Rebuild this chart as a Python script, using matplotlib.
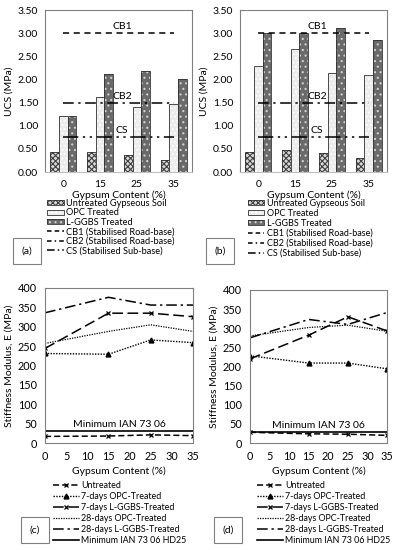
import matplotlib
matplotlib.use("Agg")
import matplotlib.pyplot as plt
import numpy as np
from matplotlib.patches import Patch
from matplotlib.lines import Line2D

plt.rcParams['font.family'] = ['Lato', 'DejaVu Sans']
plt.rcParams['font.size'] = 7
plt.rcParams['hatch.linewidth'] = 0.8

# ---- data ----
gypsum_cats = ['0', '15', '25', '35']
gypsum = [0, 15, 25, 35]

# UCS (MPa), panel (a) and (b)
ucs_untreated_a = [0.43, 0.43, 0.37, 0.25]
ucs_opc_a = [1.22, 1.62, 1.41, 1.46]
ucs_ggbs_a = [1.20, 2.12, 2.18, 2.01]

ucs_untreated_b = [0.44, 0.48, 0.41, 0.30]
ucs_opc_b = [2.28, 2.65, 2.14, 2.10]
ucs_ggbs_b = [3.00, 3.00, 3.11, 2.86]

cb1, cb2, cs = 3.0, 1.5, 0.75

# stiffness modulus (MPa), panel (c) and (d)
e_untreated_c = [17, 18, 21, 19]
e_opc7_c = [231, 229, 266, 259]
e_ggbs7_c = [244, 335, 335, 326]
e_opc28_c = [257, 288, 305, 288]
e_ggbs28_c = [336, 376, 356, 356]

e_untreated_d = [28, 24, 23, 20]
e_opc7_d = [228, 209, 209, 194]
e_ggbs7_d = [220, 282, 330, 293]
e_opc28_d = [280, 302, 308, 292]
e_ggbs28_d = [275, 323, 310, 341]

e_min = 30

fig = plt.figure(figsize=(3.98, 5.5), dpi=100)

# bar styles: (face, hatch, hatch colour)
bar_styles = [('#d8d8d8', 'xxxxxx', '#404040'),
              ('#ececec', '....', '#ffffff'),
              ('#6a6a6a', '...', '#d0d0d0')]
bar_labels = ['Untreated Gypseous Soil', 'OPC Treated', 'L-GGBS Treated']
ref_dashes = {'CB1': (4, 3), 'CB2': (7, 3, 1.5, 3), 'CS': (10, 3, 1.5, 3, 1.5, 3)}
leg_dashes = {'CB1': (3, 2), 'CB2': (3, 2, 1, 2), 'CS': (5, 2, 1, 2, 1, 2)}
ref_labels = ['CB1 (Stabilised Road-base)', 'CB2 (Stabilised Road-base)',
              'CS (Stabilised Sub-base)']


def bar_panel(rect, series, tag, leg_x, box_x, leg_fs, leg_sp):
    ax = fig.add_axes(rect)
    x = np.arange(len(gypsum_cats))
    w = 0.235
    handles = []
    for i, vals in enumerate(series):
        face, hatch, hc = bar_styles[i]
        ax.bar(x + (i - 1) * w, vals, w, color=face, hatch=hatch, edgecolor=hc, linewidth=0)
        ax.bar(x + (i - 1) * w, vals, w, fill=False, edgecolor='#303030', linewidth=0.6)
        handles.append((Patch(facecolor=face, hatch=hatch, edgecolor=hc, linewidth=0),
                        Patch(fill=False, edgecolor='#303030', linewidth=0.6)))
    for name, val in [('CB1', cb1), ('CB2', cb2), ('CS', cs)]:
        ax.plot([0, 3], [val, val], color='black', lw=1.1, dashes=ref_dashes[name])
        ax.text(1.6, val + 0.04, name, ha='center', va='bottom', fontsize=7.5)
        handles.append(Line2D([], [], color='black', lw=1.1, dashes=leg_dashes[name]))
    ax.set_xlim(-0.5, 3.5)
    ax.set_ylim(0, 3.5)
    ax.set_yticks(np.arange(0, 3.51, 0.5))
    ax.set_yticklabels(['%.2f' % v for v in np.arange(0, 3.51, 0.5)])
    ax.set_xticks(x)
    ax.set_xticklabels(gypsum_cats)
    ax.tick_params(length=0, labelsize=7.5)
    ax.tick_params(axis='x', pad=6)
    ax.tick_params(axis='y', pad=5)
    for s in ax.spines.values():
        s.set_color('#808080')
        s.set_linewidth(0.8)
    ax.spines['bottom'].set_color('#bfbfbf')
    ax.set_xlabel('Gypsum Content (%)', fontsize=7.5, labelpad=1)
    ax.set_ylabel('UCS (MPa)', fontsize=7.5, labelpad=3)
    ax.legend(handles, bar_labels + ref_labels, loc='upper left',
              bbox_to_anchor=(leg_x, 1 - 199 / 550), bbox_transform=fig.transFigure,
              frameon=False, borderpad=0, borderaxespad=0, handlelength=1.8,
              handleheight=0.5, handletextpad=0.25, labelspacing=leg_sp, fontsize=leg_fs)
    fig.text(box_x, 1 - 251 / 550, tag, ha='center', va='center', fontsize=7.5,
             bbox=dict(boxstyle='square,pad=0.8', fc='white', ec='#808080', lw=0.8))
    return ax


def line_panel(rect, untr, opc7, ggbs7, opc28, ggbs28, tag, leg_x, box_x):
    ax = fig.add_axes(rect)
    ax.plot(gypsum, untr, color='black', lw=1.1, dashes=(4, 2), marker='x', ms=3.5, mew=0.9,
            label='Untreated')
    ax.plot(gypsum, opc7, color='black', lw=1.0, dashes=(1, 1), marker='^', ms=3.5,
            label='7-days OPC-Treated')
    ax.plot(gypsum, ggbs7, color='black', lw=1.1, dashes=(7, 3), marker='x', ms=3.5, mew=0.9,
            label='7-days L-GGBS-Treated')
    ax.plot(gypsum, opc28, color='black', lw=0.9, dashes=(1, 1),
            label='28-days OPC-Treated')
    ax.plot(gypsum, ggbs28, color='black', lw=1.1, dashes=(7, 2.5, 1.5, 2.5),
            label='28-days L-GGBS-Treated')
    ax.plot([gypsum[0], gypsum[-1]], [e_min, e_min], color='black', lw=1.2,
            label='Minimum IAN 73 06 HD25')
    ax.text(17.5, e_min + 5, 'Minimum IAN 73 06', ha='center', va='bottom', fontsize=7.5)
    ax.set_xlim(0, 35)
    ax.set_ylim(0, 400)
    ax.set_xticks(np.arange(0, 36, 5))
    ax.set_yticks(np.arange(0, 401, 50))
    ax.tick_params(length=0, pad=6, labelsize=7.8)
    for s in ax.spines.values():
        s.set_color('#808080')
        s.set_linewidth(0.8)
    ax.set_xlabel('Gypsum Content (%)', fontsize=7.5, labelpad=3)
    ax.set_ylabel('Stiffness Modulus, E (MPa)', fontsize=7.5, labelpad=3)
    ax.legend(loc='upper left', bbox_to_anchor=(leg_x, 1 - 481 / 550),
              bbox_transform=fig.transFigure, frameon=False, borderpad=0, borderaxespad=0,
              handlelength=2.9, handletextpad=0.25, labelspacing=0.22, fontsize=6.4)
    fig.text(box_x, 1 - 530 / 550, tag, ha='center', va='center', fontsize=7.5,
             bbox=dict(boxstyle='square,pad=0.8', fc='white', ec='#808080', lw=0.8))
    return ax


bar_panel([45 / 398, 1 - 172 / 550, 147 / 398, 162 / 550],
          [ucs_untreated_a, ucs_opc_a, ucs_ggbs_a], '(a)', 47 / 398, 27 / 398, 6.7, 0.05)
bar_panel([240 / 398, 1 - 172 / 550, 147 / 398, 162 / 550],
          [ucs_untreated_b, ucs_opc_b, ucs_ggbs_b], '(b)', 248 / 398, 220 / 398, 6.5, 0.1)

line_panel([45 / 398, 1 - 443 / 550, 148 / 398, 155 / 550],
           e_untreated_c, e_opc7_c, e_ggbs7_c, e_opc28_c, e_ggbs28_c, '(c)', 53 / 398, 35 / 398)
line_panel([250 / 398, 1 - 443 / 550, 137 / 398, 153 / 550],
           e_untreated_d, e_opc7_d, e_ggbs7_d, e_opc28_d, e_ggbs28_d, '(d)', 257 / 398, 228 / 398)

fig.savefig('out.png', dpi=100)
